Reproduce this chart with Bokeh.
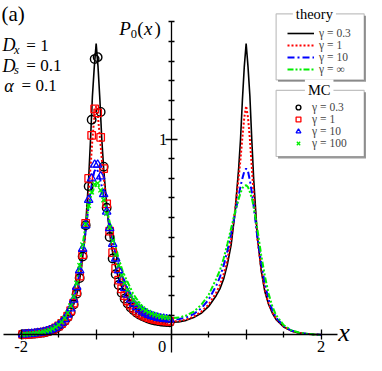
from bokeh.plotting import figure
from bokeh.models import (Range1d, LinearAxis, FixedTicker, Label, Legend, LegendItem,
                          BoxAnnotation)
from bokeh.embed import file_html
from bokeh.resources import INLINE

# ---------------- data ----------------
# theory curves, read on x >= 0 (the curves are symmetric in x)
x_half = [0, 0.1, 0.2, 0.3, 0.4, 0.5, 0.6, 0.65, 0.7, 0.75, 0.8, 0.85, 0.9, 0.925, 0.95, 0.975,
          1.0, 1.025, 1.05, 1.075, 1.1, 1.15, 1.2, 1.25, 1.3, 1.35, 1.4, 1.5, 1.6, 1.7, 1.8, 1.9, 2.0]
th_g03 = [0.064, 0.066, 0.074, 0.088, 0.11, 0.145, 0.20, 0.235, 0.285, 0.36, 0.46, 0.62, 0.85, 1.0, 1.2, 1.37,
          1.49, 1.37, 1.22, 1.0, 0.80, 0.50, 0.33, 0.22, 0.155, 0.11, 0.078, 0.04, 0.02, 0.01, 0.005, 0.002, 0.0]
th_g1 = [0.068, 0.07, 0.078, 0.093, 0.117, 0.155, 0.215, 0.255, 0.31, 0.385, 0.49, 0.63, 0.80, 0.90, 1.01, 1.11,
         1.17, 1.11, 1.0, 0.86, 0.72, 0.49, 0.34, 0.23, 0.16, 0.115, 0.082, 0.042, 0.021, 0.01, 0.005, 0.002, 0.0]
th_g10 = [0.078, 0.08, 0.089, 0.106, 0.135, 0.18, 0.25, 0.295, 0.355, 0.43, 0.52, 0.615, 0.71, 0.76, 0.80, 0.835,
          0.85, 0.835, 0.79, 0.73, 0.66, 0.50, 0.37, 0.26, 0.18, 0.125, 0.088, 0.045, 0.022, 0.011, 0.005, 0.002, 0.0]
th_ginf = [0.085, 0.088, 0.099, 0.118, 0.152, 0.205, 0.285, 0.33, 0.39, 0.465, 0.545, 0.625, 0.695, 0.725, 0.75, 0.762,
           0.765, 0.755, 0.73, 0.70, 0.655, 0.54, 0.41, 0.30, 0.21, 0.145, 0.10, 0.05, 0.024, 0.012, 0.006, 0.002, 0.0]

# Monte Carlo histograms (left half only)
x_mc = [-1.98, -1.94, -1.90, -1.86, -1.82, -1.78, -1.74, -1.70, -1.66, -1.62,
        -1.58, -1.54, -1.50, -1.46, -1.42, -1.38, -1.34, -1.30, -1.26, -1.22,
        -1.18, -1.14, -1.10, -1.06, -1.02, -0.98, -0.94, -0.90, -0.86, -0.82,
        -0.78, -0.74, -0.70, -0.66, -0.62, -0.58, -0.54, -0.50, -0.46, -0.42,
        -0.38, -0.34, -0.30, -0.26, -0.22, -0.18, -0.14, -0.10, -0.06, -0.02]
mc_g03 = [0.002, 0.003, 0.004, 0.005, 0.006, 0.008, 0.010, 0.012, 0.016, 0.020,
          0.026, 0.033, 0.042, 0.055, 0.070, 0.090, 0.117, 0.155, 0.21, 0.29,
          0.40, 0.56, 0.76, 1.10, 1.41, 1.42, 1.14, 0.86, 0.65, 0.50,
          0.39, 0.31, 0.255, 0.215, 0.185, 0.16, 0.14, 0.125, 0.113, 0.103,
          0.095, 0.088, 0.082, 0.077, 0.073, 0.07, 0.068, 0.066, 0.065, 0.064]
mc_g1 = [0.002, 0.003, 0.004, 0.005, 0.006, 0.008, 0.010, 0.013, 0.017, 0.021,
         0.027, 0.035, 0.045, 0.058, 0.074, 0.095, 0.123, 0.162, 0.22, 0.30,
         0.41, 0.57, 0.80, 1.02, 1.155, 1.135, 1.01, 0.85, 0.67, 0.53,
         0.42, 0.34, 0.28, 0.235, 0.20, 0.173, 0.152, 0.135, 0.121, 0.11,
         0.101, 0.094, 0.088, 0.083, 0.079, 0.076, 0.073, 0.071, 0.07, 0.069]
mc_g10 = [0.002, 0.003, 0.004, 0.005, 0.007, 0.009, 0.011, 0.014, 0.018, 0.023,
          0.029, 0.037, 0.048, 0.062, 0.08, 0.103, 0.135, 0.18, 0.245, 0.33,
          0.44, 0.56, 0.69, 0.80, 0.87, 0.87, 0.81, 0.72, 0.63, 0.545,
          0.465, 0.39, 0.33, 0.28, 0.24, 0.205, 0.18, 0.16, 0.143, 0.13,
          0.119, 0.11, 0.102, 0.096, 0.091, 0.087, 0.084, 0.082, 0.08, 0.079]
mc_g100 = [0.002, 0.003, 0.004, 0.006, 0.007, 0.009, 0.012, 0.015, 0.019, 0.024,
           0.031, 0.04, 0.051, 0.066, 0.086, 0.112, 0.148, 0.195, 0.265, 0.355,
           0.46, 0.565, 0.66, 0.73, 0.77, 0.775, 0.74, 0.69, 0.62, 0.55,
           0.48, 0.41, 0.355, 0.305, 0.265, 0.23, 0.20, 0.178, 0.16, 0.145,
           0.133, 0.123, 0.115, 0.108, 0.102, 0.097, 0.093, 0.09, 0.088, 0.087]

theory_labels = ["γ = 0.3", "γ = 1", "γ = 10", "γ = ∞"]
mc_labels = ["γ = 0.3", "γ = 1", "γ = 10", "γ = 100"]
x_ticks = [-2, -1, 0, 1, 2]
x_minor = [-1.5, -0.5, 0.5, 1.5]
y_ticks = [1]
y_minor = [0.1, 0.2, 0.3, 0.4, 0.5, 0.6, 0.7, 0.8, 0.9, 1.1, 1.2, 1.3, 1.4, 1.5, 1.6]


def mirror(xs, ys):
    return ([-v for v in reversed(xs[1:])] + list(xs), list(reversed(ys[1:])) + list(ys))


# ---------------- figure ----------------
W, H = 366, 355
S = 0.957          # layout scale (reference is 382x371)
FONT = "Liberation Serif"

p = figure(width=W, height=H, x_range=Range1d(-2.2757, 2.605), y_range=Range1d(-0.1058, 1.7097),
           output_backend="svg", toolbar_location=None, min_border=0,
           x_axis_location=None, y_axis_location=None)
p.outline_line_color = None
p.grid.visible = False
p.background_fill_color = "white"
p.border_fill_color = "white"


def sx(px):
    return S * px


def sy(py):
    return H - S * py


def fs(size):
    return f"{round(size * S * 2) / 2}px"


axis_style = dict(axis_line_color="black", axis_line_width=1.3,
                  major_tick_line_color="black", minor_tick_line_color="black",
                  major_tick_line_width=1.3, minor_tick_line_width=1.3,
                  major_label_text_font=FONT, major_label_text_font_size=fs(17),
                  major_label_text_color="black")

xa = LinearAxis(fixed_location=0, bounds=(-2.24, 2.217),
                ticker=FixedTicker(ticks=x_ticks, minor_ticks=x_minor),
                major_label_overrides={-2: "-2", -1: "", 0: "", 1: "", 2: "2"},
                major_tick_in=5, major_tick_out=5, minor_tick_in=3, minor_tick_out=3,
                major_label_standoff=1, **axis_style)
ya = LinearAxis(fixed_location=0, bounds=(-0.09, 1.6),
                ticker=FixedTicker(ticks=y_ticks, minor_ticks=y_minor),
                major_tick_in=6, major_tick_out=6, minor_tick_in=3, minor_tick_out=3,
                major_label_standoff=-2, **axis_style)
p.add_layout(xa, "below")
p.add_layout(ya, "left")

# theory curves
th_styles = [
    dict(color="black", line_width=1.6, line_dash="solid"),
    dict(color="#ff0000", line_width=2.0, line_dash="2 2"),
    dict(color="#0000ff", line_width=2.0, line_dash="7 3 2 3"),
    dict(color="#00ee00", line_width=2.0, line_dash="6 2 2 2 2 2"),
]
th_renderers = []
for ys, st in zip([th_g03, th_g1, th_g10, th_ginf], th_styles):
    xx, yy = mirror(x_half, ys)
    r = p.line(xx, yy, line_color=st["color"], line_width=st["line_width"], line_dash=st["line_dash"])
    th_renderers.append(r)

# MC markers
mc_renderers = []
mc_renderers.append(p.scatter(x_mc, mc_g03, marker="circle", size=8.5, fill_color=None,
                              line_color="black", line_width=1.4))
mc_renderers.append(p.scatter(x_mc, mc_g1, marker="square", size=7.5, fill_color=None,
                              line_color="#ff0000", line_width=1.3))
mc_renderers.append(p.scatter(x_mc, mc_g10, marker="triangle", size=8.5, fill_color=None,
                              line_color="#0000ff", line_width=1.3))
mc_renderers.append(p.scatter(x_mc, mc_g100, marker="x", size=6.5, fill_color=None,
                              line_color="#00ee00", line_width=1.3))

# legend boxes (shadow + box)
for top, bottom in [(14, 83), (94, 163)]:
    p.add_layout(BoxAnnotation(left=sx(290), right=sx(384), top=sy(top + 2), bottom=sy(bottom + 2),
                               left_units="screen", right_units="screen", top_units="screen",
                               bottom_units="screen", fill_color="#999999", fill_alpha=1.0,
                               line_color=None))
    p.add_layout(BoxAnnotation(left=sx(288), right=sx(380), top=sy(top), bottom=sy(bottom),
                               left_units="screen", right_units="screen", top_units="screen",
                               bottom_units="screen", fill_color="white", fill_alpha=1.0,
                               line_color="#333333", line_width=1.2))

leg_common = dict(border_line_alpha=0, background_fill_alpha=0, padding=0, margin=0,
                  label_text_font=FONT, label_text_font_size="11.5px", label_height=12, glyph_height=12)
leg_th = Legend(items=[LegendItem(label=l, renderers=[r]) for l, r in zip(theory_labels, th_renderers)],
                location=(sx(300), sy(78.6)), glyph_width=27, label_standoff=5, spacing=0, **leg_common)
leg_mc = Legend(items=[LegendItem(label=l, renderers=[r]) for l, r in zip(mc_labels, mc_renderers)],
                location=(sx(300), sy(155.5)), glyph_width=22, label_standoff=3, spacing=-1, **leg_common)
p.add_layout(leg_th)
p.add_layout(leg_mc)


def txt(text, px, py, size, italic=False, align="left"):
    p.add_layout(Label(x=sx(px), y=sy(py), x_units="screen", y_units="screen", text=text,
                       text_font=FONT, text_font_size=fs(size),
                       text_font_style="italic" if italic else "normal",
                       text_align=align, text_baseline="middle", text_color="black"))


# legend titles sitting on the box border
for t, px, py in [("theory", 328, 14), ("MC", 333, 94)]:
    p.add_layout(Label(x=sx(px), y=sy(py), x_units="screen", y_units="screen", text=t,
                       text_font=FONT, text_font_size=fs(15), text_align="center",
                       text_baseline="middle", background_fill_color="white", padding=3,
                       text_color="black"))

# panel label and parameters
txt("(a)", 1, 14, 22)
txt("D", 2, 47, 19, italic=True)
txt("x", 14, 52, 13, italic=True)
txt("= 1", 27, 47, 18)
txt("D", 2, 68, 19, italic=True)
txt("s", 14, 73, 13, italic=True)
txt("= 0.1", 27, 68, 18)
txt("α", 4, 89, 19, italic=True)
txt("= 0.1", 22, 89, 18)

# axis labels
txt("P", 124, 29, 20, italic=True)
txt("0", 136, 35, 13)
txt("(", 143, 29, 20)
txt("x", 150, 29, 20, italic=True)
txt(")", 161, 29, 20)
txt("x", 353, 347, 27, italic=True)
txt("0", 169, 362, 17, align="center")

open("out.html", "w").write(file_html(p, INLINE))
